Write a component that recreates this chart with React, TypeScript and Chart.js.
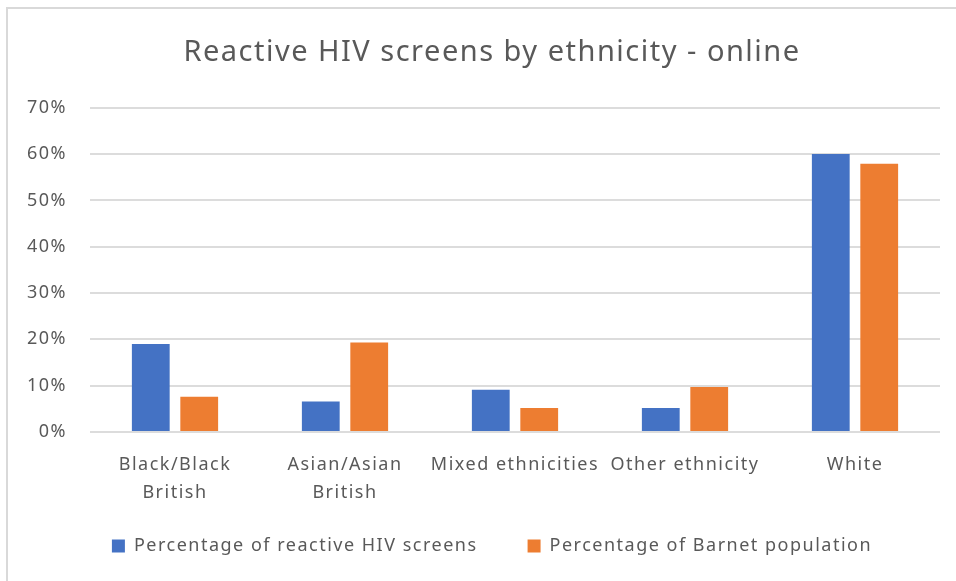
import React, { useEffect, useRef } from "react";
import { Chart, registerables } from "chart.js";

Chart.register(...registerables);

const categories: (string | string[])[] = [
  ["Black/Black", "British"],
  ["Asian/Asian", "British"],
  "Mixed ethnicities",
  "Other ethnicity",
  "White",
];
const reactiveScreens = [0.19, 0.066, 0.091, 0.052, 0.6];
const barnetPopulation = [0.076, 0.193, 0.052, 0.097, 0.579];
const yTicks = [0, 0.1, 0.2, 0.3, 0.4, 0.5, 0.6, 0.7];

const FONT = "'Noto Sans', 'Open Sans', sans-serif";
const TEXT = "#595959";
const SPACING = "1.5px";

const spacingPlugin = {
  id: "letterSpacing",
  beforeUpdate(c: any) {
    c.ctx.letterSpacing = SPACING;
  },
  beforeLayout(c: any) {
    c.ctx.letterSpacing = SPACING;
  },
  beforeDraw(c: any) {
    c.ctx.letterSpacing = SPACING;
  },
};

// let tick labels overflow their axis boxes (no clipping)
const noLabelClip = (axis: any) => {
  axis._computeLabelArea = () => undefined;
};

export default function App() {
  const ref = useRef<HTMLCanvasElement>(null);
  useEffect(() => {
    if (!ref.current) return;
    const chart = new Chart(ref.current, {
      type: "bar",
      data: {
        labels: categories,
        datasets: [
          {
            label: "Percentage of reactive HIV screens",
            data: reactiveScreens,
            backgroundColor: "#4472C4",
            categoryPercentage: 0.57,
            barPercentage: 0.78,
          },
          {
            label: "Percentage of Barnet population",
            data: barnetPopulation,
            backgroundColor: "#ED7D31",
            categoryPercentage: 0.57,
            barPercentage: 0.78,
          },
        ],
      },
      plugins: [spacingPlugin],
      options: {
        animation: false,
        responsive: false,
        maintainAspectRatio: false,
        layout: { padding: { top: 0, right: 16, bottom: 16, left: 44 } },
        plugins: {
          title: {
            display: true,
            text: "Reactive HIV screens by ethnicity - online",
            color: TEXT,
            font: { family: FONT, size: 29, weight: "normal", lineHeight: 1.2 },
            padding: { top: 35, bottom: 38 },
          },
          legend: {
            position: "bottom",
            labels: {
              color: TEXT,
              font: { family: FONT, size: 18 },
              boxWidth: 13,
              boxHeight: 13,
              padding: 50,
            },
          },
          tooltip: { enabled: false },
        },
        scales: {
          x: {
            afterFit: (axis: any) => {
              axis.height = 55;
              noLabelClip(axis);
            },
            grid: { display: false },
            border: { display: false },
            ticks: {
              color: TEXT,
              font: { family: FONT, size: 18, lineHeight: 1.55 },
              maxRotation: 0,
              autoSkip: false,
              padding: 11,
            },
          },
          y: {
            min: 0,
            max: 0.7,
            afterFit: (axis: any) => {
              axis.width = 46;
              noLabelClip(axis);
            },
            afterBuildTicks: (axis: any) => {
              axis.ticks = yTicks.map((v) => ({ value: v }));
            },
            grid: { color: "#dcdcdc", lineWidth: 2, drawTicks: false },
            border: { display: false },
            ticks: {
              color: TEXT,
              font: { family: FONT, size: 18 },
              padding: 23,
              callback: (v: any) => Math.round(Number(v) * 100) + "%",
            },
          },
        },
      },
    });
    return () => chart.destroy();
  }, []);
  return (
    <div style={{ position: "absolute", left: 0, top: 0, width: 956, height: 581, background: "#fff" }}>
      <canvas ref={ref} width={956} height={581} style={{ position: "absolute", left: 0, top: 0 }} />
      <div
        style={{
          position: "absolute",
          left: 6,
          top: 7,
          width: 960,
          height: 590,
          borderTop: "2px solid #d9d9d9",
          borderLeft: "2px solid #d9d9d9",
          pointerEvents: "none",
        }}
      />
    </div>
  );
}
